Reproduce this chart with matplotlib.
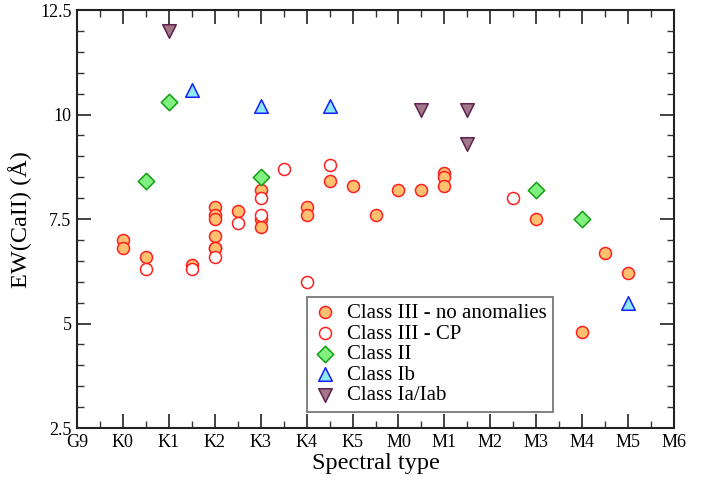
import matplotlib
matplotlib.use('Agg')

from matplotlib import pyplot as plt
from matplotlib.ticker import MultipleLocator
import numpy as np

plt.rcParams['font.family'] = ['Liberation Serif', 'DejaVu Serif']
plt.rcParams['mathtext.fontset'] = 'stix'

spectral_labels = ['G9', 'K0', 'K1', 'K2', 'K3', 'K4', 'K5',
                   'M0', 'M1', 'M2', 'M3', 'M4', 'M5', 'M6']

# position on the spectral axis (G9 = 0, K0 = 1, ..., M6 = 13), EW(CaII) in Angstrom
cls3_x = [1, 1, 1.5, 2.5, 3, 3, 3, 3, 3, 3, 3.5, 4, 4, 4, 5, 5, 5.5, 6, 6.5,
          7, 7.5, 8, 8, 8, 10, 11, 11.5, 12]
cls3_y = [7.0, 6.8, 6.6, 6.4, 7.8, 7.6, 7.5, 7.1, 6.8, 6.8, 7.7, 8.2, 7.5, 7.3,
          7.8, 7.6, 8.4, 8.3, 7.6, 8.2, 8.2, 8.6, 8.5, 8.3, 7.5, 4.8, 6.7, 6.2]

cp_x = [1.5, 2.5, 3, 3.5, 4, 4, 4.5, 5, 5.5, 9.5]
cp_y = [6.3, 6.3, 6.6, 7.4, 8.0, 7.6, 8.7, 6.0, 8.8, 8.0]

cls2_x = [1.5, 2, 4, 10, 11]
cls2_y = [8.4, 10.3, 8.5, 8.2, 7.5]

cls1b_x = [2.5, 4, 5.5, 12]
cls1b_y = [10.6, 10.2, 10.2, 5.5]

cls1a_x = [2, 7.5, 8.5, 8.5]
cls1a_y = [12.0, 10.1, 10.1, 9.3]

fig = plt.figure(figsize=(7.11, 4.82), dpi=100)
ax = fig.add_axes([0.1083, 0.112, 0.8397, 0.867])

ax.scatter(cls3_x, cls3_y, s=75, marker='o', facecolor='#ffc070',
           edgecolor='#ff2020', linewidth=1.1, zorder=3,
           label='Class III - no anomalies')
ax.scatter(cp_x, cp_y, s=75, marker='o', facecolor='white',
           edgecolor='#ff2020', linewidth=1.1, zorder=3,
           label='Class III - CP')
ax.scatter(cls2_x, cls2_y, s=70, marker='D', facecolor='#80f080',
           edgecolor='#10a010', linewidth=1.1, zorder=3, label='Class II')
ax.scatter(cls1b_x, cls1b_y, s=95, marker='^', facecolor='#90e8f0',
           edgecolor='#1020ff', linewidth=1.1, zorder=3, label='Class Ib')
ax.scatter(cls1a_x, cls1a_y, s=95, marker='v', facecolor='#a07888',
           edgecolor='#602050', linewidth=1.1, zorder=3, label='Class Ia/Iab')

ax.set_xlim(0, 13)
ax.set_ylim(2.5, 12.5)
ax.set_xticks(np.arange(len(spectral_labels)))
ax.set_xticklabels(spectral_labels)
ax.xaxis.set_minor_locator(MultipleLocator(0.5))
ax.set_yticks([2.5, 5, 7.5, 10, 12.5])
ax.set_yticklabels(['2.5', '5', '7.5', '10', '12.5'])
ax.yaxis.set_minor_locator(MultipleLocator(0.5))

ax.tick_params(which='both', direction='in', top=True, right=True,
               labelsize=13, color='#333333')
ax.tick_params(which='major', length=10, width=1.3, pad=4)
ax.tick_params(which='minor', length=5, width=1.0)
for spine in ax.spines.values():
    spine.set_linewidth(1.5)
    spine.set_color('#222222')

ax.set_xlabel('Spectral type', fontsize=17.5, labelpad=2)
ax.set_ylabel('EW(CaII) (Å)', fontsize=17.5, labelpad=6)

leg = ax.legend(loc='lower left', bbox_to_anchor=(0.385, 0.039),
                fontsize=15, frameon=True, fancybox=False,
                edgecolor='#555555', borderpad=0.3, labelspacing=0.05,
                handletextpad=0.55, handlelength=1.1, borderaxespad=0)
leg.get_frame().set_linewidth(1.3)

plt.savefig('out.png', dpi=100)
plt.close()
